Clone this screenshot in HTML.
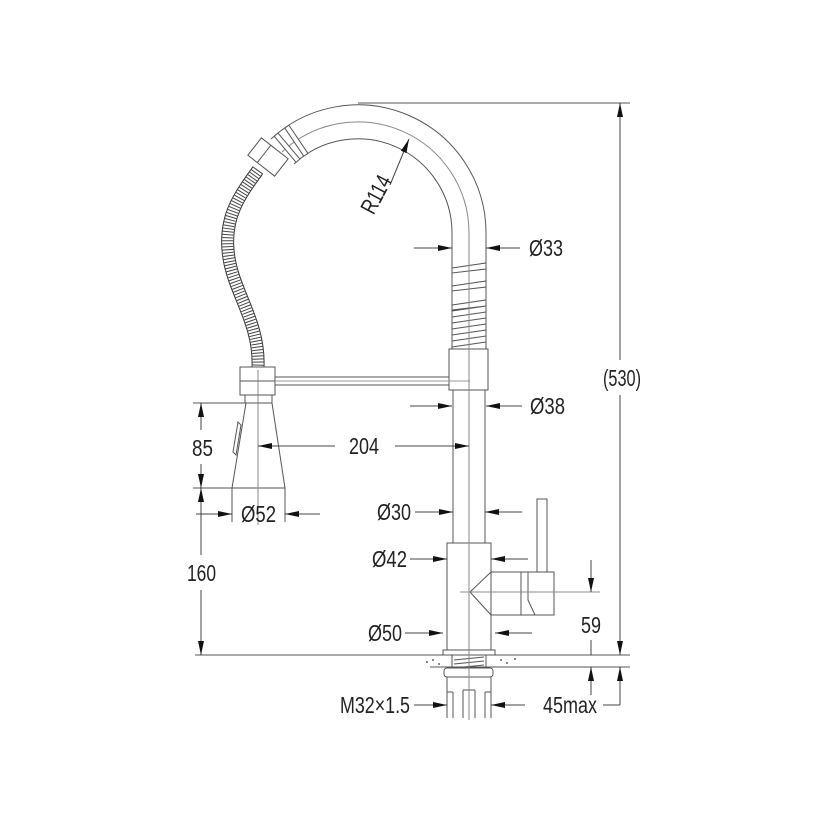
<!DOCTYPE html>
<html><head><meta charset="utf-8"><style>
html,body{margin:0;padding:0;background:#fff}
svg{display:block}
text{font-family:"Liberation Sans",sans-serif;font-size:23px;fill:#222}
</style></head><body>
<svg width="828" height="828" viewBox="0 0 828 828" xmlns="http://www.w3.org/2000/svg">
<defs>
<marker id="a" viewBox="0 0 14 6" refX="14" refY="3" markerWidth="14" markerHeight="6" markerUnits="userSpaceOnUse" orient="auto-start-reverse"><path d="M0,0 L14,3 L0,6z" fill="#111"/></marker>
</defs>
<g fill="none" stroke="#555" stroke-width="1">
<path d="M486,233 A128,128 0 0 0 271,139"/>
<path d="M469,233 A111,111 0 0 0 282,152" stroke="#888"/>
<path d="M452,233 A94,94 0 0 0 294,164"/>
<g transform="rotate(-124 358 233)"><rect x="452" y="-2" width="34" height="5" transform="translate(0,233)" fill="#fff"/></g>
<g transform="rotate(-130 358 233)"><rect x="452" y="-2" width="34" height="5" transform="translate(0,233)" fill="#fff"/></g>
<g transform="rotate(38 268 157)"><rect x="251" y="146" width="34" height="22" fill="#fff"/><line x1="263" y1="146" x2="263" y2="168"/></g>
<path d="M258,170 C240,195 225,215 228,250 C231,290 260,320 258,367" stroke="#333" stroke-width="13"/>
<path d="M258,170 C240,195 225,215 228,250 C231,290 260,320 258,367" stroke="#fff" stroke-width="11"/>
<path d="M258,170 C240,195 225,215 228,250 C231,290 260,320 258,367" stroke="#444" stroke-width="11" stroke-dasharray="1 2"/>
<line x1="452" y1="233" x2="452" y2="349"/><line x1="486" y1="233" x2="486" y2="349"/>
<path d="M452,268 L486,263 L486,269 L452,273z M452,286 L486,281 L486,287 L452,291z M452,305 L486,300 L486,306 L452,310z M452,311 L486,306 M452,317 L486,312 M452,323 L486,318 M452,329 L486,324 M452,335 L486,330 M452,341 L486,336 M452,347 L486,342" fill="#fff"/>
<rect x="449" y="349" width="39" height="41" fill="#fff"/>
<rect x="240" y="367" width="35" height="28" fill="#fff"/>
<line x1="240" y1="381" x2="275" y2="381"/>
<line x1="275" y1="377" x2="449" y2="377"/><line x1="275" y1="385" x2="449" y2="385"/><line x1="275" y1="381" x2="470" y2="381" stroke="#999"/>
<rect x="245" y="395" width="27" height="8"/>
<path d="M246,403 L272,403 L285,488 L232,488z" fill="#fff"/>
<path d="M238,422 L233,452 L236,455 L241,425z"/>
<line x1="453" y1="390" x2="453" y2="543"/><line x1="485" y1="390" x2="485" y2="543"/>
<rect x="447" y="543" width="44" height="107" fill="#fff"/>
<path d="M491,572 L470,592 L491,615 M491,572 L521,572 M491,615 L521,615" />
<rect x="537" y="499" width="10" height="73" fill="#fff"/>
<rect x="521" y="572" width="33" height="43" fill="#fff"/>
<path d="M528,572 L528,600 L535,615"/>
<rect x="443" y="650" width="52" height="5" fill="#fff"/>
<rect x="452" y="655" width="34" height="13"/>
<path d="M454,660 L484,657 M454,664 L484,661 M454,668 L484,665"/>
<rect x="444" y="668" width="49" height="9" rx="3" fill="#fff"/>
<path d="M447,677 L447,718 M491,677 L491,718 M453,692 L453,718 M485,692 L485,718 M447,692 L453,692 M485,692 L491,692 M463,690 L463,718 M475,690 L475,718 M463,690 L475,690"/>
<line x1="195" y1="655" x2="630" y2="655"/>
<line x1="430" y1="667" x2="630" y2="667"/>
<path d="M432,660 h2 M438,664 h2 M500,660 h2 M506,663 h2 M514,659 h2 M426,662 h2" stroke="#888" stroke-width="2"/>
<line x1="469" y1="233" x2="469" y2="720" stroke="#888"/>
<line x1="258" y1="370" x2="258" y2="525" stroke="#888"/>
<line x1="460" y1="592" x2="600" y2="592" stroke="#888"/>
<line x1="193" y1="403" x2="245" y2="403"/><line x1="193" y1="488" x2="232" y2="488"/>
<line x1="232" y1="488" x2="232" y2="522"/><line x1="285" y1="488" x2="285" y2="522"/>
<line x1="358" y1="103" x2="630" y2="103"/>
</g>
<g stroke="#444" stroke-width="1" fill="none">
<line x1="201" y1="430" x2="201" y2="403" marker-end="url(#a)"/><line x1="201" y1="464" x2="201" y2="488" marker-end="url(#a)"/>
<line x1="201" y1="555" x2="201" y2="488" marker-end="url(#a)"/><line x1="201" y1="590" x2="201" y2="655" marker-end="url(#a)"/>
<line x1="196" y1="514" x2="232" y2="514" marker-end="url(#a)"/><line x1="320" y1="514" x2="285" y2="514" marker-end="url(#a)"/>
<line x1="335" y1="446" x2="258" y2="446" marker-end="url(#a)"/><line x1="395" y1="446" x2="469" y2="446" marker-end="url(#a)"/>
<line x1="414" y1="248" x2="452" y2="248" marker-end="url(#a)"/><line x1="520" y1="248" x2="486" y2="248" marker-end="url(#a)"/>
<line x1="410" y1="406" x2="452" y2="406" marker-end="url(#a)"/><line x1="522" y1="406" x2="486" y2="406" marker-end="url(#a)"/>
<line x1="415" y1="512" x2="453" y2="512" marker-end="url(#a)"/><line x1="522" y1="512" x2="485" y2="512" marker-end="url(#a)"/>
<line x1="410" y1="559" x2="447" y2="559" marker-end="url(#a)"/><line x1="528" y1="559" x2="491" y2="559" marker-end="url(#a)"/>
<line x1="405" y1="633" x2="443" y2="633" marker-end="url(#a)"/><line x1="532" y1="633" x2="495" y2="633" marker-end="url(#a)"/>
<line x1="414" y1="705" x2="447" y2="705" marker-end="url(#a)"/><line x1="525" y1="705" x2="491" y2="705" marker-end="url(#a)"/>
<line x1="591" y1="560" x2="591" y2="592" marker-end="url(#a)"/><line x1="591" y1="640" x2="591" y2="655" />
<line x1="591" y1="695" x2="591" y2="667" marker-end="url(#a)"/>
<line x1="620" y1="360" x2="620" y2="103" marker-end="url(#a)"/><line x1="620" y1="395" x2="620" y2="655" marker-end="url(#a)"/>
<line x1="620" y1="705" x2="620" y2="667" marker-end="url(#a)"/><line x1="603" y1="705" x2="620" y2="705"/>
<line x1="390" y1="185" x2="409" y2="139" marker-end="url(#a)"/>
</g>
<g>
<text x="192" y="456" textLength="21" lengthAdjust="spacingAndGlyphs">85</text>
<text x="187" y="581" textLength="29" lengthAdjust="spacingAndGlyphs">160</text>
<text x="241" y="522" textLength="35" lengthAdjust="spacingAndGlyphs">Ø52</text>
<text x="349" y="454" textLength="30" lengthAdjust="spacingAndGlyphs">204</text>
<text x="529" y="256" textLength="34" lengthAdjust="spacingAndGlyphs">Ø33</text>
<text x="530" y="414" textLength="35" lengthAdjust="spacingAndGlyphs">Ø38</text>
<text x="377" y="520" textLength="34" lengthAdjust="spacingAndGlyphs">Ø30</text>
<text x="372" y="567" textLength="35" lengthAdjust="spacingAndGlyphs">Ø42</text>
<text x="368" y="641" textLength="34" lengthAdjust="spacingAndGlyphs">Ø50</text>
<text x="581" y="633" textLength="20" lengthAdjust="spacingAndGlyphs">59</text>
<text x="340" y="713" textLength="70" lengthAdjust="spacingAndGlyphs">M32×1.5</text>
<text x="543" y="713" textLength="54" lengthAdjust="spacingAndGlyphs">45max</text>
<text x="603" y="386" textLength="38" lengthAdjust="spacingAndGlyphs">(530)</text>
<text x="0" y="0" transform="translate(383,198) rotate(-62)" text-anchor="middle" textLength="40" lengthAdjust="spacingAndGlyphs">R114</text>
</g>
</svg>
</body></html>
